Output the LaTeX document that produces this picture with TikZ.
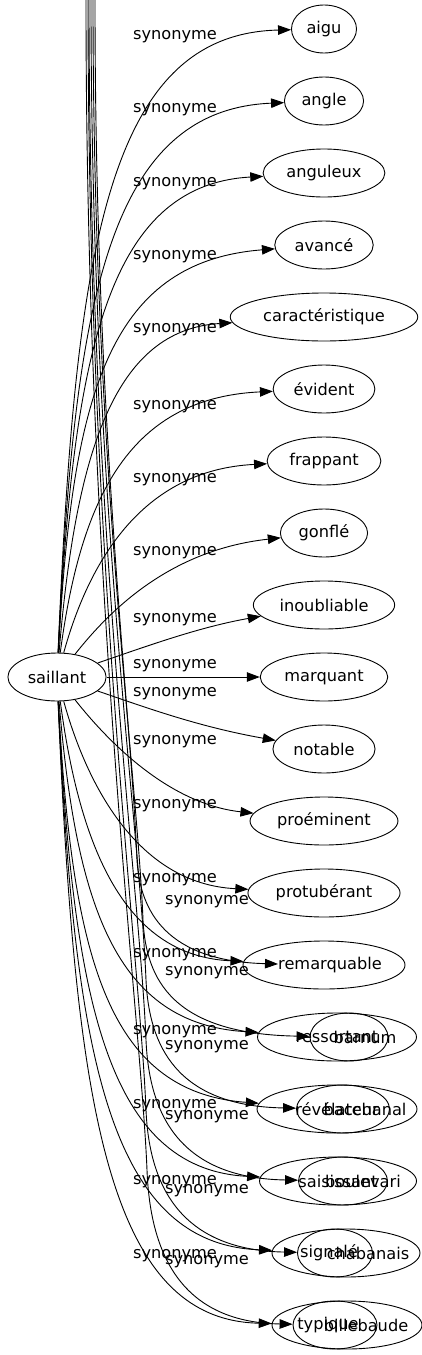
\documentclass[tikz,border=0pt]{standalone}
\usepackage{fontspec}
\setmainfont{DejaVu Sans}
\usetikzlibrary{arrows.meta,shapes.geometric}
\begin{document}
\begin{tikzpicture}[x=1pt,y=-1pt,
    font=\fontsize{16.2}{19}\selectfont,
    syn/.style={draw,ellipse,line width=0.9pt,inner xsep=5.5pt,inner ysep=2pt,minimum height=48pt},
    rel/.style={inner sep=1pt},
    >={Triangle[length=13pt,width=9.5pt]}]
  \useasboundingbox (0,0) rectangle (421,1355);
  \draw
    (57,677) node[syn] (saillant){saillant}
    (324,29) node[syn] (aigu){aigu}
    (324,101) node[syn] (angle){angle}
    (324,173) node[syn] (anguleux){anguleux}
    (324,245) node[syn] (avance){avancé}
    (324,317) node[syn] (caracteristique){caractéristique}
    (324,389) node[syn] (evident){évident}
    (324,461) node[syn] (frappant){frappant}
    (324,533) node[syn] (gonfle){gonflé}
    (324,605) node[syn] (inoubliable){inoubliable}
    (324,677) node[syn] (marquant){marquant}
    (324,749) node[syn] (notable){notable}
    (324,821) node[syn] (proeminent){proéminent}
    (324,893) node[syn] (protuberant){protubérant}
    (324,965) node[syn,label={[xshift=6pt]center:remarquable}] (remarquable){\phantom{remarquable}}
    (337,1037) node[syn,minimum width=159pt] (ressortant){ressortant}
    (337,1109) node[syn,minimum width=160pt] (revelateur){révélateur}
    (338,1181) node[syn,minimum width=157pt] (saisissant){saisissant}
    (346,1253) node[syn,minimum width=148pt,label={[xshift=-17pt]center:signalé}] (signale){}
    (347,1325) node[syn,minimum width=150pt,label={[xshift=-19pt]center:typique}] (typique){};
  % second graph drawn over the first one
  \draw
    (349,1037) node[syn,minimum width=78pt,label={[xshift=16pt]center:barnum}] (barnum){}
    (343,1109) node[syn,minimum width=93pt,label={[xshift=22pt]center:bacchanal}] (bacchanal){}
    (343,1181) node[syn,minimum width=89pt,label={[xshift=20pt]center:boulevari}] (boulevari){}
    (335,1253) node[syn,minimum width=75pt,label={[xshift=33pt]center:chabanais}] (chabanais){}
    (335,1325) node[syn,minimum width=84pt,label={[xshift=31pt]center:billebaude}] (billebaude){};
  \coordinate (top1) at (95,0);
  \coordinate (top2) at (93,0);
  \coordinate (top3) at (91,0);
  \coordinate (top4) at (89,0);
  \coordinate (top5) at (88,0);
  \coordinate (top6) at (86,0);
  \coordinate (remB) at (278,964);
  % edge labels
  \draw
    (175,37) node[rel] (s1){synonyme}
    (175,110) node[rel] (s2){synonyme}
    (175,184) node[rel] (s3){synonyme}
    (175,257) node[rel] (s4){synonyme}
    (175,330) node[rel] (s5){synonyme}
    (175,407) node[rel] (s6){synonyme}
    (175,480) node[rel] (s7){synonyme}
    (175,553) node[rel] (s8){synonyme}
    (175,620) node[rel] (s9){synonyme}
    (175,666) node[rel] (s10){synonyme}
    (175,694) node[rel] (s11){synonyme}
    (175,742) node[rel] (s12){synonyme}
    (175,806) node[rel] (s13){synonyme}
    (175,880) node[rel] (s14){synonyme}
    (175,955) node[rel] (s15){synonyme}
    (175,1032) node[rel] (s16){synonyme}
    (175,1106) node[rel] (s17){synonyme}
    (175,1182) node[rel] (s18){synonyme}
    (175,1256) node[rel] (s19){synonyme}
    (207,902) node[rel] (t1){synonyme}
    (207,973) node[rel] (t2){synonyme}
    (207,1047) node[rel] (t3){synonyme}
    (207,1117) node[rel] (t4){synonyme}
    (207,1191) node[rel] (t5){synonyme}
    (207,1262) node[rel] (t6){synonyme};
  \begin{scope}[->,line width=0.9pt]
    \draw (saillant) .. controls (75,256) and (105,34) .. (aigu);
    \draw (saillant) .. controls (74,310) and (105,110) .. (angle);
    \draw (saillant) .. controls (73,360) and (105,185) .. (anguleux);
    \draw (saillant) .. controls (72,400) and (106,262) .. (avance);
    \draw (saillant) .. controls (76,450) and (115,330) .. (caracteristique);
    \draw (saillant) .. controls (80,505) and (125,398) .. (evident);
    \draw (saillant) .. controls (88,565) and (140,470) .. (frappant);
    \draw (saillant) .. controls (110,610) and (170,550) .. (gonfle);
    \draw (saillant) .. controls (150,645) and (200,627) .. (inoubliable);
    \draw (saillant) -- (marquant);
    \draw (saillant) .. controls (150,709) and (200,727) .. (notable);
    \draw (saillant) .. controls (110,744) and (170,804) .. (proeminent);
    \draw (saillant) .. controls (88,789) and (140,884) .. (protuberant);
    \draw (saillant) .. controls (80,849) and (125,956) .. (remarquable);
    \draw (saillant) .. controls (76,904) and (115,1024) .. (ressortant);
    \draw (saillant) .. controls (72,954) and (106,1092) .. (revelateur);
    \draw (saillant) .. controls (73,994) and (105,1169) .. (saisissant);
    \draw (saillant) .. controls (74,1044) and (105,1244) .. (signale);
    \draw (saillant) .. controls (75,1098) and (105,1320) .. (typique);
    \draw (top1) .. controls (95,430) and (131,710) .. (137,860) .. controls (140,912) and (167,961) .. (remB);
    \draw (top2) .. controls (93,460) and (137,770) .. (143,920) .. controls (146,980) and (173,1034) .. (barnum);
    \draw (top3) .. controls (91,490) and (140,830) .. (146,980) .. controls (149,1045) and (176,1106) .. (bacchanal);
    \draw (top4) .. controls (89,520) and (140,890) .. (146,1040) .. controls (149,1110) and (176,1178) .. (boulevari);
    \draw (top5) .. controls (88,555) and (140,960) .. (146,1110) .. controls (149,1180) and (176,1250) .. (chabanais);
    \draw (top6) .. controls (86,585) and (141,1020) .. (147,1170) .. controls (150,1248) and (177,1322) .. (billebaude);
  \end{scope}
\end{tikzpicture}
\end{document}
